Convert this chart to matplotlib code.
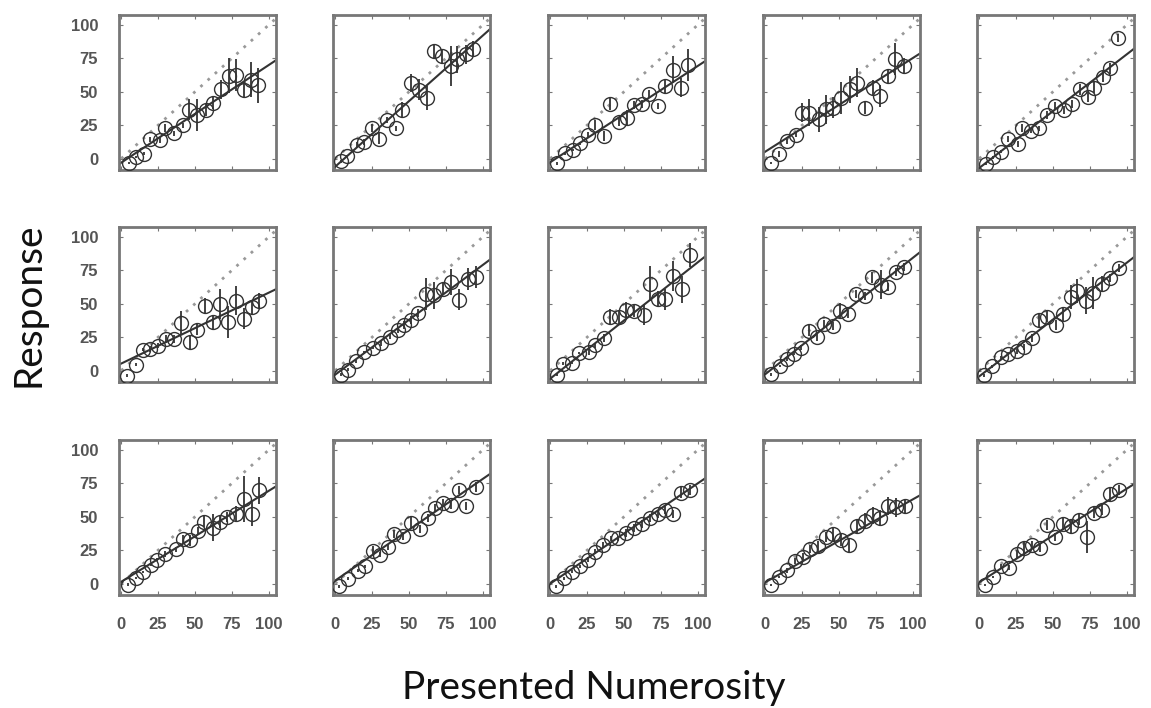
import matplotlib.pyplot as plt
import numpy as np

# Per-panel data (row by row, left to right)
presented = [
    [5.4, 10, 15.7, 19.5, 26, 30, 35.5, 42, 46, 51.5, 57.5, 62.6, 67.6, 73, 77.6, 83, 88, 93],
    [3.7, 8.2, 14.6, 19.5, 25.2, 29.7, 35.4, 41, 45.5, 51.2, 56.9, 62, 67, 72.7, 78.4, 82.9, 88.5, 93.7],
    [4.6, 10.2, 15.2, 20.4, 25.6, 30.6, 36.2, 40.7, 46.4, 52, 56.5, 62.2, 67.1, 73, 78, 83.2, 88.6, 93.8],
    [3.7, 9.4, 15.1, 20.8, 24.9, 29.9, 36.8, 40.9, 45.9, 51.6, 57.3, 62.3, 67.6, 73.2, 78.2, 83.5, 88, 94.2],
    [4.3, 9.2, 14.8, 19.2, 26.6, 29.2, 34.8, 40.4, 46, 51.5, 57.7, 63.1, 68.2, 73.8, 78.2, 83.8, 88.9, 94.3],
    [4.1, 10, 14.9, 19.4, 25.1, 30.3, 35.7, 40.8, 46.5, 51.7, 56.6, 62.2, 67.2, 72.4, 78, 83.6, 88.8, 93.8],
    [3.7, 8.7, 14.3, 19.3, 25.6, 31.2, 36.9, 42.5, 47, 51.5, 56.1, 61.7, 67.3, 73, 78.6, 84.3, 89.9, 95.6],
    [4.6, 8.7, 14.8, 19.3, 26.1, 30.6, 36.2, 40.3, 46.4, 51.6, 57, 63.3, 67.8, 73, 78, 83.6, 89.3, 94.5],
    [4, 9.9, 14.9, 19.5, 24.5, 29.7, 35, 40, 45.7, 51, 56.4, 61.7, 67.4, 72.4, 78.3, 83.3, 88.6, 94.3],
    [3.1, 8.8, 14.5, 19.8, 25.3, 30.5, 35.8, 40.4, 45.9, 52.3, 56.9, 62.1, 66.5, 72.4, 77.4, 83.2, 88.4, 94.6],
    [4.3, 10, 15, 19.9, 24.4, 29.5, 36.9, 41.8, 46.8, 51.9, 56.4, 62, 66.9, 72, 78, 83.2, 88.8, 93.7],
    [2.9, 8.6, 15.3, 20.3, 25.5, 30.7, 35.7, 40.2, 45.8, 51.5, 57.8, 63.2, 67.7, 72.9, 78.6, 84.2, 88.7, 95.5],
    [4, 9.5, 15, 20, 25.5, 30.5, 36, 41, 46, 51.5, 57, 62, 67.5, 73, 78, 83.5, 89, 94.5],
    [4, 9.5, 15, 20, 25.5, 30.5, 36, 41, 46, 51.5, 57, 62, 67.5, 73, 78, 83.5, 89, 94.5],
    [4, 9.5, 15, 20, 25.5, 30.5, 36, 41, 46, 51.5, 57, 62, 67.5, 73, 78, 83.5, 89, 94.5],
]
response = [
    [-3.3, 1.3, 3.8, 14.4, 14, 22.8, 19, 25, 36.7, 33, 36.7, 41.8, 52, 62, 62.5, 51.4, 59, 55],
    [-2.1, 2, 10.5, 12.5, 22.6, 15, 28.9, 22.6, 36.5, 56.6, 51.6, 45.3, 80.5, 76.8, 69.2, 74.3, 78, 81.8],
    [-3.4, 4, 6.5, 11.5, 17.7, 25.1, 16.9, 41.2, 27.6, 30.1, 40, 41.2, 48.7, 39.3, 54.1, 66.5, 53.1, 69.8],
    [-3.3, 3.5, 13, 18, 34.3, 34.3, 29.3, 36.8, 38.1, 45.6, 51.9, 56.9, 38.1, 53.1, 46.9, 61.9, 74.4, 69.4],
    [-4, 1, 5.3, 14.8, 11, 22.8, 21, 22.8, 32.8, 39.3, 36.1, 41.1, 51.9, 46.1, 53, 61.4, 67.7, 90],
    [-3.8, 4.5, 15.6, 16.3, 18.8, 23.9, 23.9, 35.7, 21.4, 30.7, 48.3, 36.5, 49.8, 36.5, 52.4, 39, 47.3, 52.4],
    [-2.9, 0.8, 7, 13.7, 16.9, 20.6, 25.5, 30.5, 34.2, 37.9, 42.8, 57.6, 56.4, 61.3, 66.3, 53.2, 68.7, 70],
    [-2.9, 5.3, 5.8, 13.2, 13.9, 18.9, 24.5, 39.8, 39.8, 45.3, 44.8, 41.8, 65, 53.4, 53.4, 70.7, 60.8, 86.3],
    [-2.8, 3.5, 8.5, 12.8, 17.3, 29.8, 25.3, 34.8, 33.6, 44.8, 42.3, 57.4, 56.1, 69.9, 64.3, 62.4, 73.7, 77.4],
    [-3.4, 3.2, 10, 12.6, 14.4, 17.6, 24.5, 37.9, 40.4, 34.1, 42.2, 54.8, 59.4, 52.3, 58.1, 64.9, 69.5, 77.1],
    [-0.8, 4.3, 8.8, 14.3, 18, 22.3, 25.6, 33.1, 32.3, 39.3, 46.4, 41.9, 46.4, 49.9, 51.9, 63.2, 51.9, 69.9],
    [-2, 3.8, 9.8, 13, 24.8, 21.8, 27.3, 37.3, 35.6, 45.6, 40.6, 48.9, 56.4, 60.7, 58.9, 69.9, 58.1, 72.4],
    [-2, 4, 9, 13, 18, 24, 29, 34, 34, 38, 42, 45, 49, 52, 55, 52, 68, 70],
    [-1, 5, 10, 17, 20, 26, 28, 35, 37, 33, 29, 43, 47, 51, 49, 58, 57, 58],
    [-1, 5, 13, 12, 22, 27, 29, 27, 44, 35, 45, 43, 48, 35, 53, 55, 67, 70],
]
errors = [
    [1, 1, 1, 2, 2, 3, 2, 2, 8, 12, 5, 5, 7, 13, 12, 6, 13, 13],
    [1, 1, 2, 2, 3, 4, 2, 2, 6, 7, 8, 9, 5, 5, 15, 10, 7, 6],
    [1, 1, 1, 1, 2, 4, 4, 5, 3, 6, 3, 3, 3, 2, 5, 10, 7, 12],
    [1, 2, 2, 2, 7, 10, 9, 11, 8, 12, 10, 11, 5, 6, 8, 5, 12, 6],
    [1, 1, 1, 2, 2, 3, 2, 2, 3, 3, 3, 3, 4, 4, 4, 4, 4, 3],
    [1, 1, 1, 2, 2, 3, 3, 9, 5, 4, 6, 5, 11, 12, 11, 8, 5, 6],
    [1, 1, 1, 1, 1, 2, 2, 2, 3, 3, 3, 12, 10, 4, 10, 8, 8, 8],
    [1, 1, 1, 1, 2, 2, 3, 6, 5, 6, 5, 8, 13, 6, 8, 11, 10, 9],
    [1, 1, 1, 1, 2, 4, 3, 3, 3, 6, 3, 3, 3, 4, 11, 3, 3, 3],
    [1, 1, 1, 1, 2, 2, 3, 5, 4, 4, 5, 9, 9, 10, 12, 6, 3, 3],
    [1, 1, 1, 1, 1, 2, 2, 3, 4, 3, 4, 10, 5, 4, 6, 17, 9, 10],
    [1, 1, 1, 1, 3, 2, 2, 3, 3, 4, 3, 3, 3, 3, 3, 3, 3, 4],
    [1, 1, 1, 1, 2, 2, 2, 2, 2, 3, 3, 3, 3, 3, 3, 3, 4, 4],
    [1, 1, 2, 2, 3, 3, 4, 4, 5, 5, 5, 5, 6, 6, 6, 7, 7, 5],
    [1, 1, 2, 2, 3, 4, 3, 3, 4, 3, 5, 5, 4, 12, 4, 4, 5, 4],
]
fit_slope = [0.73, 0.98, 0.72, 0.70, 0.85,
             0.53, 0.82, 0.87, 0.87, 0.85,
             0.68, 0.76, 0.75, 0.62, 0.70]
fit_intercept = [-3, -6, -2.7, 5.2, -7,
                 5.3, -3, -6, -2.7, -4.3,
                 1.4, 2.3, 0, 1, 1]
ticks = [0, 25, 50, 75, 100]

W, H = 1151, 708
fig = plt.figure(figsize=(W / 100, H / 100), dpi=100)

col_left = [119, 333, 548, 763, 977]
row_top = [15, 227, 440]
pw, ph = 157, 155
edge = '#777777'
tick_font = dict(family='Liberation Sans', weight='bold', size=12, color='#555555')

for i in range(15):
    r, c = divmod(i, 5)
    ax = fig.add_axes([col_left[c] / W, 1 - (row_top[r] + ph) / H, pw / W, ph / H])
    ax.set_xlim(-1.5, 105)
    ax.set_ylim(-8.5, 107.5)

    # identity line and fitted line
    ax.plot([0, 105], [0, 105], color='#999999', lw=2, linestyle=(0, (1, 2.5)), zorder=1)
    xs = np.array([-1.5, 105])
    ax.plot(xs, fit_slope[i] * xs + fit_intercept[i], color='#333333', lw=1.5, zorder=2)

    ax.errorbar(presented[i], response[i], yerr=errors[i], fmt='none',
                ecolor='#333333', elinewidth=1.3, capsize=0, zorder=3)
    ax.plot(presented[i], response[i], 'o', ms=10, mfc='none', mec='#333333', mew=1.0, zorder=4)

    ax.set_xticks(ticks)
    ax.set_yticks(ticks)
    ax.tick_params(direction='in', length=3, color=edge, top=True, right=True)
    for s in ax.spines.values():
        s.set_color(edge)
        s.set_linewidth(2)

    if c == 0:
        ax.set_yticklabels([str(t) for t in ticks], fontdict=tick_font)
        ax.tick_params(axis='y', pad=15)
    else:
        ax.set_yticklabels([])
    if r == 2:
        ax.set_xticklabels([str(t) for t in ticks], fontdict=tick_font)
        ax.tick_params(axis='x', pad=16)
    else:
        ax.set_xticklabels([])

fig.text(28 / W, 1 - 305 / H, 'Response', rotation=90, ha='center', va='center',
         fontsize=28, family='Lato', color='#111111')
fig.text(594 / W, 1 - 688 / H, 'Presented Numerosity', ha='center', va='center',
         fontsize=28, family='Lato', color='#111111')

fig.savefig('out.png', dpi=100)
